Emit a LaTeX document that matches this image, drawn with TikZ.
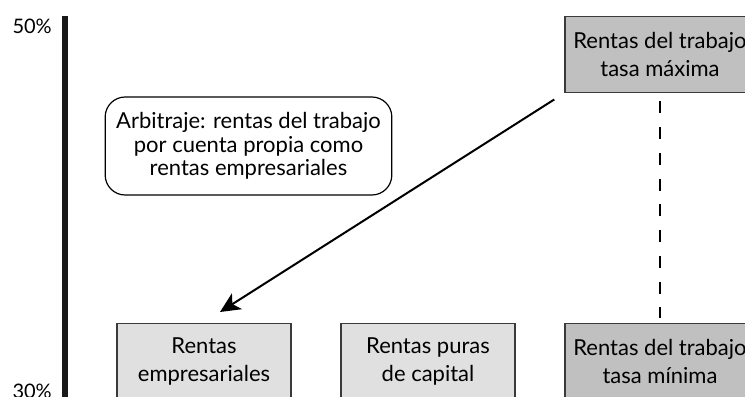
\documentclass[tikz,border=0pt]{standalone}
\usepackage{fontspec}
\setmainfont{Lato}
\usetikzlibrary{positioning, arrows.meta}

\definecolor{tasagray}{HTML}{C0C0C0}
\definecolor{rentagray}{HTML}{E0E0E0}
\definecolor{boxline}{HTML}{3A3A3A}

\begin{document}
\begin{tikzpicture}[
    x=0.75pt, y=-0.75pt,
    >=Stealth,
    font=\fontsize{16.5}{21}\selectfont,
    rentabox/.style={draw=boxline, line width=1.1pt, align=center,
        minimum height=57pt, inner sep=2pt},
    renta/.style={rentabox, fill=rentagray, minimum width=130.5pt},
    tasa/.style={rentabox, fill=tasagray, minimum width=142.5pt},
    nota/.style={draw=black, line width=0.9pt, rounded corners=15pt, align=center,
        minimum width=215pt, minimum height=73.5pt,
        font=\fontsize{16.5}{17.5}\selectfont},
    pct/.style={font=\fontsize{15}{15}\selectfont, inner sep=0pt}
]

    % frame
    \useasboundingbox (0,0) rectangle (745,396);
    \clip (0,0) rectangle (745,396);

    % Axis (vertical bar)
    \coordinate (axtop) at (65,16);
    \coordinate (axbot) at (65,400);
    \draw[line width=4.5pt, black!90] (axtop) -- (axbot);
    \node[pct, anchor=base east] (p50) at (52,33) {50\%};
    \node[pct, anchor=base east] (p30) at (52,398) {30\%};

    % Labour income, top and bottom rate
    \node[tasa, anchor=north] (tmax) at (660,16) {Rentas del trabajo\\tasa máxima};
    \node[tasa, anchor=north] (tmin) at (660,323) {Rentas del trabajo\\tasa mínima};

    % Other income at the bottom rate
    \node[renta, anchor=north] (emp) at (204,323) {Rentas\\empresariales};
    \node[renta, anchor=north] (cap) at (428,323) {Rentas puras\\de capital};

    % Note
    \node[nota] (arb) at (248.5,146) {Arbitraje: rentas del trabajo\\por cuenta propia como\\rentas empresariales};

    % Connectors
    \draw[->, line width=1.5pt, arrows={-Stealth[length=15pt, width=14pt, inset=4pt]}]
        ([shift={(-10,6)}]tmax.south west) -- ([shift={(16,-11)}]emp.north);
    \draw[line width=2.2pt, dash pattern=on 9pt off 10.3pt]
        ([yshift=-6pt]tmax.south) -- ([yshift=3.75pt]tmin.north);

\end{tikzpicture}
\end{document}
